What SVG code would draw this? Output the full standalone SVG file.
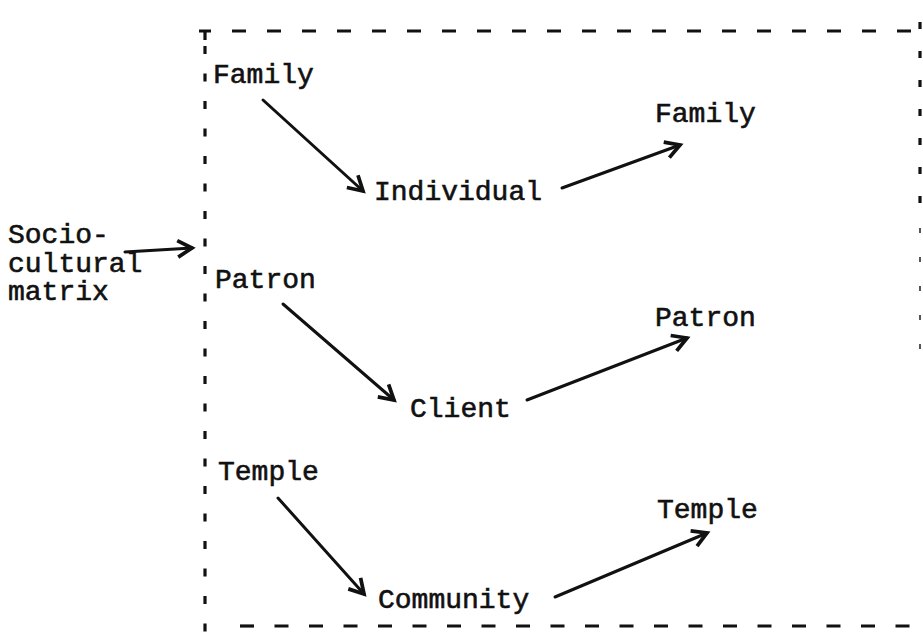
<svg xmlns="http://www.w3.org/2000/svg" width="923" height="632" viewBox="0 0 923 632">
<style>
.t{font-family:"Liberation Mono","Courier New",monospace;font-size:28px;fill:#111;stroke:#111;stroke-width:0.6}
.c{fill:none;stroke:#111;stroke-width:3;stroke-linecap:round}
.b{fill:none;stroke:#111;stroke-width:3.2}
</style>
<defs>
<marker id="ah" markerUnits="userSpaceOnUse" markerWidth="22" markerHeight="22" refX="15" refY="9" orient="auto" viewBox="0 0 20 18">
<path d="M2,1.5 L15,9 L2,16.5" fill="none" stroke="#111" stroke-width="3.4" stroke-linejoin="miter"/>
</marker>
</defs>
<rect width="923" height="632" fill="#fff"/>
<g id="frame">
<path class="b" d="M199,31 L211,31 M205,31 L205,40" stroke-width="2.5"/>
<line class="b" x1="232" y1="31" x2="918" y2="31" stroke-dasharray="14 21"/>
<line class="b" x1="205" y1="46" x2="205" y2="632" stroke-dasharray="8 19.5"/>
<line class="b" x1="920" y1="22" x2="920" y2="215" stroke-dasharray="7 22"/>
<line x1="920" y1="228" x2="920" y2="360" stroke="#555" stroke-width="2" stroke-dasharray="5 24"/>
<line class="b" x1="240" y1="626" x2="923" y2="626" stroke-dasharray="14 20.5"/>
</g>
<g id="n-socio"><text class="t" x="8" y="243">Socio-</text><text class="t" x="8" y="272">cultural</text><text class="t" x="8" y="300">matrix</text></g>
<g id="n-family1"><text class="t" x="213" y="83">Family</text></g>
<g id="n-individual"><text class="t" x="374" y="200">Individual</text></g>
<g id="n-family2"><text class="t" x="655" y="122">Family</text></g>
<g id="n-patron1"><text class="t" x="215" y="288">Patron</text></g>
<g id="n-client"><text class="t" x="410" y="417">Client</text></g>
<g id="n-patron2"><text class="t" x="655" y="326">Patron</text></g>
<g id="n-temple1"><text class="t" x="218" y="480">Temple</text></g>
<g id="n-community"><text class="t" x="378" y="608">Community</text></g>
<g id="n-temple2"><text class="t" x="657" y="518">Temple</text></g>
<g id="connectors">
<line class="c" x1="125" y1="252" x2="192" y2="248" marker-end="url(#ah)"/>
<line class="c" x1="263" y1="100" x2="363" y2="191" marker-end="url(#ah)"/>
<line class="c" x1="562" y1="188" x2="680" y2="145" marker-end="url(#ah)"/>
<line class="c" x1="283" y1="304" x2="394" y2="400" marker-end="url(#ah)"/>
<line class="c" x1="527" y1="400" x2="687" y2="338" marker-end="url(#ah)"/>
<line class="c" x1="278" y1="498" x2="364" y2="594" marker-end="url(#ah)"/>
<line class="c" x1="555" y1="597" x2="707" y2="533" marker-end="url(#ah)"/>
</g>
</svg>
